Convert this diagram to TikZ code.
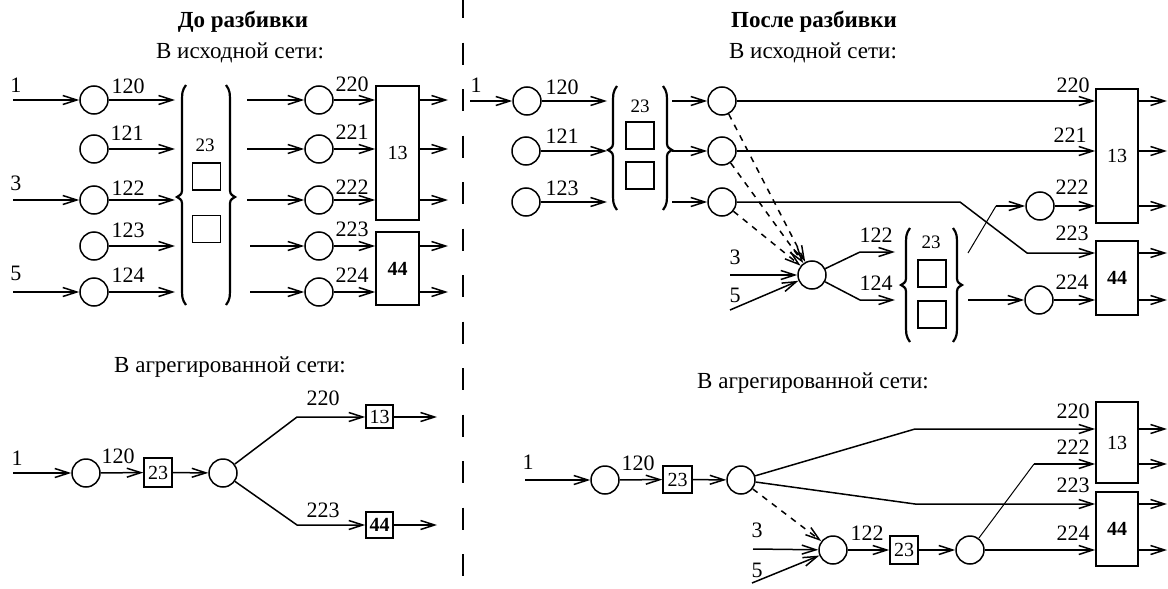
\documentclass[tikz,border=0pt]{standalone}
\usepackage{fontspec}
\setmainfont{Liberation Serif}
\usetikzlibrary{arrows.meta}
\newcommand\mylbr[4]{% x0, top, bottom, mid  (left brace)
  \draw[brc] ({#1+4},#2) .. controls (#1,{#2+6}) .. (#1,{#2+22}) -- (#1,{#4-10})
     .. controls (#1,{#4-3}) .. ({#1-5},#4) .. controls (#1,{#4+3}) .. (#1,{#4+10})
     -- (#1,{#3-22}) .. controls (#1,{#3-6}) .. ({#1+4},#3);}
\newcommand\myrbr[4]{% x0, top, bottom, mid  (right brace)
  \draw[brc] ({#1-4},#2) .. controls (#1,{#2+6}) .. (#1,{#2+22}) -- (#1,{#4-10})
     .. controls (#1,{#4-3}) .. ({#1+5},#4) .. controls (#1,{#4+3}) .. (#1,{#4+10})
     -- (#1,{#3-22}) .. controls (#1,{#3-6}) .. ({#1-4},#3);}
\begin{document}
\begin{tikzpicture}[x=0.5pt,y=-0.5pt,line width=0.75pt,
  arr/.style={-{Straight Barb[length=7pt,width=4.5pt,line width=0.75pt]}},
  circ/.style={circle,draw,minimum size=14pt,inner sep=0pt},
  lbl/.style={inner sep=0pt,font=\fontsize{11}{13}\selectfont},
  ttl/.style={inner sep=0pt,font=\fontsize{11.5}{13}\selectfont\bfseries},
  sub/.style={inner sep=0pt,font=\fontsize{11.5}{13}\selectfont},
  boxtxt/.style={draw,rectangle,inner sep=0pt,font=\fontsize{10}{12}\selectfont},
  sq/.style={draw,rectangle,inner sep=0pt,minimum width=14pt,minimum height=13.5pt},
  brc/.style={line width=1.1pt},
  thinl/.style={line width=0.5pt}]
\useasboundingbox (0,0) rectangle (1168,589);
\fill[white] (0,0) rectangle (1168,589);
% divider
\draw[line width=1.2pt,dash pattern=on 11pt off 12.25pt] (463,-4) -- (463,589);

% ================= LEFT TOP =================
\node[ttl] (tl) at (243,22) {До разбивки};
\node[sub] (stl) at (240,53) {В исходной сети:};
\foreach \n/\y in {1/100,2/149,3/200,4/246,5/292}{
  \node[circ] (a\n) at (94,\y) {};
  \coordinate (e\n) at (175,\y);
  \draw[arr] (a\n) -- (e\n);
}
\coordinate (i1) at (13,100);
\coordinate (i3) at (13,200);
\coordinate (i5) at (13,292);
\draw[arr] (i1) -- (a1);
\draw[arr] (i3) -- (a3);
\draw[arr] (i5) -- (a5);
\node[lbl] (li1) at (16,85) {1};
\node[lbl] (li3) at (16,183) {3};
\node[lbl] (li5) at (16,273) {5};
\node[lbl] (l120) at (128,86) {120};
\node[lbl] (l121) at (127,133) {121};
\node[lbl] (l122) at (128,188) {122};
\node[lbl] (l123) at (128,230) {123};
\node[lbl] (l124) at (128,275) {124};
\mylbr{182}{85}{305}{197}
\myrbr{230}{85}{305}{197}
\node[lbl,font=\fontsize{9.5}{11}\selectfont] (t23a) at (205,145) {23};
\node[sq] (sqa1) at (206.5,176.5) {};
\node[sq] (sqa2) at (206.5,229) {};
\node[boxtxt,minimum width=21.5pt,minimum height=67pt] (L13) at (397.5,153) {13};
\node[boxtxt,minimum width=21.5pt,minimum height=36.5pt,font=\fontsize{10}{12}\selectfont\bfseries] (L44) at (397.5,268.5) {44};
\foreach \n/\y/\x in {1/100/247,2/149/247,3/200/247,4/246/250,5/292/250}{
  \coordinate (f\n) at (\x,\y);
  \node[circ] (b\n) at (319,\y) {};
  \draw[arr] (f\n) -- (b\n);
  \coordinate (o\n) at (448,\y);
}
\draw[arr] (b1) -- (b1 -| L13.west);
\draw[arr] (b2) -- (b2 -| L13.west);
\draw[arr] (b3) -- (b3 -| L13.west);
\draw[arr] (b4) -- (b4 -| L44.west);
\draw[arr] (b5) -- (b5 -| L44.west);
\draw[arr] (o1 -| L13.east) -- (o1);
\draw[arr] (o2 -| L13.east) -- (o2);
\draw[arr] (o3 -| L13.east) -- (o3);
\draw[arr] (o4 -| L44.east) -- (o4);
\draw[arr] (o5 -| L44.east) -- (o5);
\node[lbl] (l220) at (352,84) {220};
\node[lbl] (l221) at (352,132) {221};
\node[lbl] (l222) at (352,187) {222};
\node[lbl] (l223) at (352,229) {223};
\node[lbl] (l224) at (352,275) {224};

% ================= LEFT BOTTOM =================
\node[sub] (sbl) at (230,367) {В агрегированной сети:};
\node[circ] (u1) at (86,473) {};
\coordinate (ui) at (13,473);
\draw[arr] (ui) -- (u1);
\node[lbl] (lu1) at (17,458) {1};
\node[boxtxt,minimum width=14pt,minimum height=14.5pt] (B23) at (158,472.5) {23};
\draw[arr] (u1) -- (B23);
\node[lbl] (lu120) at (118,456) {120};
\node[circ] (u2) at (223,473) {};
\draw[arr] (B23) -- (u2);
\node[boxtxt,minimum width=13.5pt,minimum height=11.5pt] (B13) at (379.5,416.5) {13};
\node[boxtxt,minimum width=13.5pt,minimum height=13pt,font=\fontsize{10}{12}\selectfont\bfseries] (B44) at (379.5,525) {44};
\coordinate (v1) at (297,417);
\coordinate (v2) at (297,525);
\draw[arr] (u2) -- (v1) -- (v1 -| B13.west);
\draw[arr] (u2) -- (v2) -- (v2 -| B44.west);
\coordinate (ob1) at (437,417);
\coordinate (ob2) at (437,525);
\draw[arr] (B13.east |- ob1) -- (ob1);
\draw[arr] (B44.east |- ob2) -- (ob2);
\node[lbl] (lb220) at (323,398) {220};
\node[lbl] (lb223) at (323,510) {223};

% ================= RIGHT TOP =================
\node[ttl] (tr) at (814,22) {После разбивки};
\node[sub] (str) at (813,53) {В исходной сети:};
\node[circ] (p1) at (527,101) {};
\node[circ] (p2) at (526,151) {};
\node[circ] (p3) at (526,202) {};
\coordinate (ri1) at (470,101);
\draw[arr] (ri1) -- (p1);
\node[lbl] (lri1) at (476,85) {1};
\coordinate (g1) at (607,101);
\coordinate (g2) at (607,151);
\coordinate (g3) at (607,202);
\draw[arr] (p1) -- (g1);
\draw[arr] (p2) -- (g2);
\draw[arr] (p3) -- (g3);
\node[lbl] (lr120) at (562,87) {120};
\node[lbl] (lr121) at (562,136) {121};
\node[lbl] (lr123) at (562,188) {123};
\mylbr{613}{86}{210}{150}
\myrbr{667}{86}{210}{150}
\node[lbl,font=\fontsize{9.5}{11}\selectfont] (t23b) at (640,106) {23};
\node[sq] (sqb1) at (640,135.5) {};
\node[sq] (sqb2) at (640,175.5) {};
\node[boxtxt,minimum width=21pt,minimum height=67pt] (R13) at (1117,156) {13};
\node[boxtxt,minimum width=21pt,minimum height=37pt,font=\fontsize{10}{12}\selectfont\bfseries] (R44) at (1117,278) {44};
\foreach \n/\y in {1/101,2/151,3/202}{
  \coordinate (h\n) at (672,\y);
  \node[circ] (q\n) at (722,\y) {};
  \draw[arr] (h\n) -- (q\n);
}
\draw[arr] (q1) -- (q1 -| R13.west);
\draw[arr] (q2) -- (q2 -| R13.west);
\coordinate (t1) at (960,202);
\coordinate (t2) at (1027,253);
\draw[arr] (q3) -- (t1) -- (t2) -- (t2 -| R44.west);
\node[lbl] (lr220) at (1073,85) {220};
\node[lbl] (lr221) at (1070,135) {221};
\node[lbl] (lr223) at (1072,233) {223};
\node[circ] (m) at (812,275) {};
\draw[arr,dashed] (q1) -- (m);
\draw[arr,dashed] (q2) -- (m);
\draw[arr,dashed] (q3) -- (m);
\coordinate (in3) at (730,275);
\coordinate (in5) at (730,310);
\draw[arr] (in3) -- (m);
\draw[arr] (in5) -- (m);
\node[lbl] (lin3) at (735,257) {3};
\node[lbl] (lin5) at (735,295) {5};
\coordinate (k1) at (860,252);
\coordinate (k2) at (860,300);
\coordinate (n1) at (895,252);
\coordinate (n2) at (895,300);
\draw[arr] (m) -- (k1) -- (n1);
\draw[arr] (m) -- (k2) -- (n2);
\node[lbl] (lr122) at (876,235) {122};
\node[lbl] (lr124) at (876,283) {124};
\mylbr{906}{228}{342}{285}
\myrbr{957}{228}{342}{285}
\node[lbl,font=\fontsize{9.5}{11}\selectfont] (t23c) at (931,242) {23};
\node[sq] (sqc1) at (932,273.5) {};
\node[sq] (sqc2) at (932,314.5) {};
\coordinate (s1) at (968,253);
\coordinate (s2) at (996,206);
\node[circ] (r1) at (1040,206) {};
\draw[thinl] (s1) -- (s2);
\draw[arr] (s2) -- (r1);
\draw[arr] (r1) -- (r1 -| R13.west);
\coordinate (s3) at (968,300);
\node[circ] (r2) at (1039,300) {};
\draw[arr] (s3) -- (r2);
\draw[arr] (r2) -- (r2 -| R44.west);
\node[lbl] (lr222) at (1072,187) {222};
\node[lbl] (lr224) at (1072,282) {224};
\foreach \n/\y in {1/101,2/151,3/206}{
  \coordinate (or\n) at (1167,\y);
  \draw[arr] (R13.east |- or\n) -- (or\n);
}
\foreach \n/\y in {4/253,5/300}{
  \coordinate (or\n) at (1167,\y);
  \draw[arr] (R44.east |- or\n) -- (or\n);
}

% ================= RIGHT BOTTOM =================
\node[sub] (sbr) at (813,383) {В агрегированной сети:};
\node[circ] (w1) at (605,480) {};
\coordinate (wi) at (525,480);
\draw[arr] (wi) -- (w1);
\node[lbl] (lw1) at (528,462) {1};
\node[boxtxt,minimum width=14.5pt,minimum height=13.5pt] (C23) at (677.5,479.5) {23};
\draw[arr] (w1) -- (C23);
\node[lbl] (lw120) at (638,463) {120};
\node[circ] (w2) at (741,480) {};
\draw[arr] (C23) -- (w2);
\node[boxtxt,minimum width=21pt,minimum height=40.5pt] (C13) at (1117,442.5) {13};
\node[boxtxt,minimum width=21pt,minimum height=37pt,font=\fontsize{10}{12}\selectfont\bfseries] (C44) at (1117,529) {44};
\coordinate (x1) at (915,429);
\coordinate (x2) at (915,504);
\draw[arr] (w2) -- (x1) -- (x1 -| C13.west);
\draw[arr] (w2) -- (x2) -- (x2 -| C44.west);
\node[lbl] (lc220) at (1073,411) {220};
\node[lbl] (lc222) at (1073,447) {222};
\node[lbl] (lc223) at (1073,485) {223};
\node[lbl] (lc224) at (1073,533) {224};
\node[circ] (w3) at (833,550) {};
\draw[arr,dashed] (w2) -- (w3);
\coordinate (wi3) at (753,549);
\coordinate (wi5) at (752,583);
\draw[arr] (wi3) -- (w3);
\draw[arr] (wi5) -- (w3);
\node[lbl] (lw3) at (757,530) {3};
\node[lbl] (lw5) at (757,570) {5};
\node[boxtxt,minimum width=14pt,minimum height=14pt] (D23) at (904,550) {23};
\draw[arr] (w3) -- (D23);
\node[lbl] (lw122) at (867,533) {122};
\node[circ] (w4) at (970,550) {};
\draw[arr] (D23) -- (w4);
\coordinate (y1) at (1034,464);
\draw[thinl] (w4) -- (y1);
\draw[arr] (y1) -- (y1 -| C13.west);
\draw[arr] (w4) -- (w4 -| C44.west);
\foreach \n/\y in {1/429,2/464}{
  \coordinate (oc\n) at (1167,\y);
  \draw[arr] (C13.east |- oc\n) -- (oc\n);
}
\foreach \n/\y in {3/504,4/550}{
  \coordinate (oc\n) at (1167,\y);
  \draw[arr] (C44.east |- oc\n) -- (oc\n);
}
\end{tikzpicture}
\end{document}
